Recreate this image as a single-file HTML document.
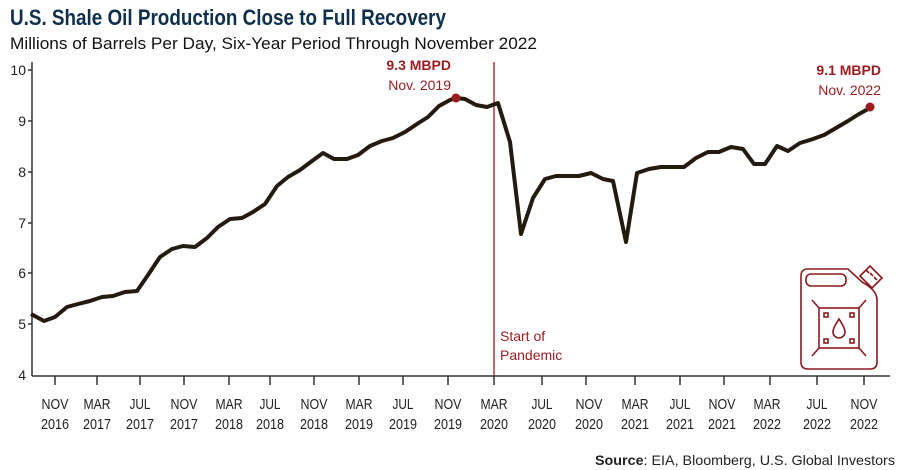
<!DOCTYPE html>
<html><head><meta charset="utf-8"><style>
html,body{margin:0;padding:0;background:#fff;}
svg{display:block;font-family:"Liberation Sans",sans-serif;}
</style></head><body>
<svg width="900" height="470" viewBox="0 0 900 470" xmlns="http://www.w3.org/2000/svg">
<text x="10" y="25" font-size="22" font-weight="bold" fill="#0f2f4d" textLength="436" lengthAdjust="spacingAndGlyphs">U.S. Shale Oil Production Close to Full Recovery</text>
<text x="10" y="49" font-size="17" fill="#111" textLength="527" lengthAdjust="spacingAndGlyphs">Millions of Barrels Per Day, Six-Year Period Through November 2022</text>
<g stroke="#333" stroke-width="1.5">
<line x1="32" y1="62" x2="32" y2="376"/>
<line x1="32" y1="376" x2="890" y2="376"/>
<line x1="28" y1="70" x2="32" y2="70"/><line x1="28" y1="121" x2="32" y2="121"/><line x1="28" y1="172" x2="32" y2="172"/><line x1="28" y1="223" x2="32" y2="223"/><line x1="28" y1="273" x2="32" y2="273"/><line x1="28" y1="324" x2="32" y2="324"/>
</g>
<g font-size="14" fill="#222" text-anchor="end">
<text x="26" y="75">10</text><text x="26" y="126">9</text><text x="26" y="177">8</text><text x="26" y="228">7</text><text x="26" y="278">6</text><text x="26" y="329">5</text><text x="26" y="380">4</text>
</g>
<g stroke="#333" stroke-width="1.5">
<line x1="55" y1="376" x2="55" y2="385"/><line x1="97" y1="376" x2="97" y2="385"/><line x1="140" y1="376" x2="140" y2="385"/><line x1="184" y1="376" x2="184" y2="385"/><line x1="229" y1="376" x2="229" y2="385"/><line x1="270" y1="376" x2="270" y2="385"/><line x1="314" y1="376" x2="314" y2="385"/><line x1="359" y1="376" x2="359" y2="385"/><line x1="403" y1="376" x2="403" y2="385"/><line x1="448" y1="376" x2="448" y2="385"/><line x1="494" y1="376" x2="494" y2="385"/><line x1="542" y1="376" x2="542" y2="385"/><line x1="586" y1="376" x2="586" y2="385"/><line x1="635" y1="376" x2="635" y2="385"/><line x1="680" y1="376" x2="680" y2="385"/><line x1="724" y1="376" x2="724" y2="385"/><line x1="770" y1="376" x2="770" y2="385"/><line x1="817" y1="376" x2="817" y2="385"/><line x1="864" y1="376" x2="864" y2="385"/>
</g>
<g font-size="15" fill="#222" text-anchor="middle">
<text x="55" y="409" textLength="27" lengthAdjust="spacingAndGlyphs">NOV</text><text x="55" y="429" textLength="28" lengthAdjust="spacingAndGlyphs">2016</text>
<text x="97" y="409" textLength="27" lengthAdjust="spacingAndGlyphs">MAR</text><text x="97" y="429" textLength="28" lengthAdjust="spacingAndGlyphs">2017</text>
<text x="140" y="409" textLength="21" lengthAdjust="spacingAndGlyphs">JUL</text><text x="140" y="429" textLength="28" lengthAdjust="spacingAndGlyphs">2017</text>
<text x="184" y="409" textLength="27" lengthAdjust="spacingAndGlyphs">NOV</text><text x="184" y="429" textLength="28" lengthAdjust="spacingAndGlyphs">2017</text>
<text x="229" y="409" textLength="27" lengthAdjust="spacingAndGlyphs">MAR</text><text x="229" y="429" textLength="28" lengthAdjust="spacingAndGlyphs">2018</text>
<text x="270" y="409" textLength="21" lengthAdjust="spacingAndGlyphs">JUL</text><text x="270" y="429" textLength="28" lengthAdjust="spacingAndGlyphs">2018</text>
<text x="314" y="409" textLength="27" lengthAdjust="spacingAndGlyphs">NOV</text><text x="314" y="429" textLength="28" lengthAdjust="spacingAndGlyphs">2018</text>
<text x="359" y="409" textLength="27" lengthAdjust="spacingAndGlyphs">MAR</text><text x="359" y="429" textLength="28" lengthAdjust="spacingAndGlyphs">2019</text>
<text x="403" y="409" textLength="21" lengthAdjust="spacingAndGlyphs">JUL</text><text x="403" y="429" textLength="28" lengthAdjust="spacingAndGlyphs">2019</text>
<text x="448" y="409" textLength="27" lengthAdjust="spacingAndGlyphs">NOV</text><text x="448" y="429" textLength="28" lengthAdjust="spacingAndGlyphs">2019</text>
<text x="494" y="409" textLength="27" lengthAdjust="spacingAndGlyphs">MAR</text><text x="494" y="429" textLength="28" lengthAdjust="spacingAndGlyphs">2020</text>
<text x="542" y="409" textLength="21" lengthAdjust="spacingAndGlyphs">JUL</text><text x="542" y="429" textLength="28" lengthAdjust="spacingAndGlyphs">2020</text>
<text x="589" y="409" textLength="27" lengthAdjust="spacingAndGlyphs">NOV</text><text x="589" y="429" textLength="28" lengthAdjust="spacingAndGlyphs">2020</text>
<text x="635" y="409" textLength="27" lengthAdjust="spacingAndGlyphs">MAR</text><text x="635" y="429" textLength="28" lengthAdjust="spacingAndGlyphs">2021</text>
<text x="680" y="409" textLength="21" lengthAdjust="spacingAndGlyphs">JUL</text><text x="680" y="429" textLength="28" lengthAdjust="spacingAndGlyphs">2021</text>
<text x="722" y="409" textLength="27" lengthAdjust="spacingAndGlyphs">NOV</text><text x="722" y="429" textLength="28" lengthAdjust="spacingAndGlyphs">2021</text>
<text x="767" y="409" textLength="27" lengthAdjust="spacingAndGlyphs">MAR</text><text x="767" y="429" textLength="28" lengthAdjust="spacingAndGlyphs">2022</text>
<text x="817" y="409" textLength="21" lengthAdjust="spacingAndGlyphs">JUL</text><text x="817" y="429" textLength="28" lengthAdjust="spacingAndGlyphs">2022</text>
<text x="864" y="409" textLength="27" lengthAdjust="spacingAndGlyphs">NOV</text><text x="864" y="429" textLength="28" lengthAdjust="spacingAndGlyphs">2022</text>
</g>
<text x="895" y="465" font-size="14" fill="#222" text-anchor="end" textLength="300" lengthAdjust="spacingAndGlyphs"><tspan font-weight="bold">Source</tspan>: EIA, Bloomberg, U.S. Global Investors</text>
<line x1="494" y1="62" x2="494" y2="376" stroke="#9b1b1f" stroke-width="1.3"/>
<text x="500" y="341" font-size="14" fill="#9b1b1f">Start of</text>
<text x="500" y="360" font-size="14" fill="#9b1b1f">Pandemic</text>
<polyline fill="none" stroke="#231a10" stroke-width="4" stroke-linejoin="round" points="31,314 44,321 55,317 67,307 78,304 90,301 102,297 113,296 125,292 137,291 148,275 160,257 172,249 183,246 195,247 207,238 218,227 230,219 242,218 253,212 265,204 277,186 288,177 300,170 312,161 323,153 334,159 347,159 358,155 370,146 382,141 393,138 405,132 417,124 428,117 439,106 450,100 456,98 465,99 476,105 487,107 498,103 510,142 521,234 533,198 545,179 556,176 568,176 579,176 591,173 603,179 613,181 626,242 637,173 649,169 661,167 673,167 684,167 696,158 708,152 719,152 731,147 743,149 754,164 765,164 777,146 788,151 800,143 813,139 824,135 836,128 848,121 859,114 870,108"/>
<circle cx="456" cy="98" r="4.5" fill="#9b1b1f"/>
<circle cx="870" cy="107" r="4.5" fill="#9b1b1f"/>
<text x="451" y="70" font-size="14" font-weight="bold" fill="#9b1b1f" text-anchor="end">9.3 MBPD</text>
<text x="451" y="90" font-size="14" fill="#9b1b1f" text-anchor="end">Nov. 2019</text>
<text x="881" y="75" font-size="14" font-weight="bold" fill="#9b1b1f" text-anchor="end">9.1 MBPD</text>
<text x="881" y="95" font-size="14" fill="#9b1b1f" text-anchor="end">Nov. 2022</text>
<g fill="none" stroke="#8b1a1e" stroke-width="1.6">
<path d="M808,269 H848 L862,282 Q877,290 877,300 V362 Q877,369 870,369 H808 Q801,369 801,362 V276 Q801,269 808,269 Z"/>
<rect x="806" y="274" width="40" height="12" rx="5"/>
<path d="M860,276 L870,266 L882,278 L872,288 Z"/>
<line x1="866" y1="270" x2="869" y2="273"/><line x1="870" y1="273" x2="873" y2="276"/><line x1="874" y1="277" x2="877" y2="280"/>
<rect x="819" y="308" width="40" height="40"/>
<line x1="812" y1="300" x2="819" y2="308"/><line x1="866" y1="300" x2="859" y2="308"/><line x1="812" y1="356" x2="819" y2="348"/><line x1="866" y1="356" x2="859" y2="348"/>
<rect x="824" y="313" width="4" height="4"/><rect x="850" y="313" width="4" height="4"/><rect x="824" y="339" width="4" height="4"/><rect x="850" y="339" width="4" height="4"/>
<path d="M839,319 Q845,328 845,332 A6,6 0 0 1 833,332 Q833,328 839,319 Z"/>
</g>
</svg>
</body></html>
